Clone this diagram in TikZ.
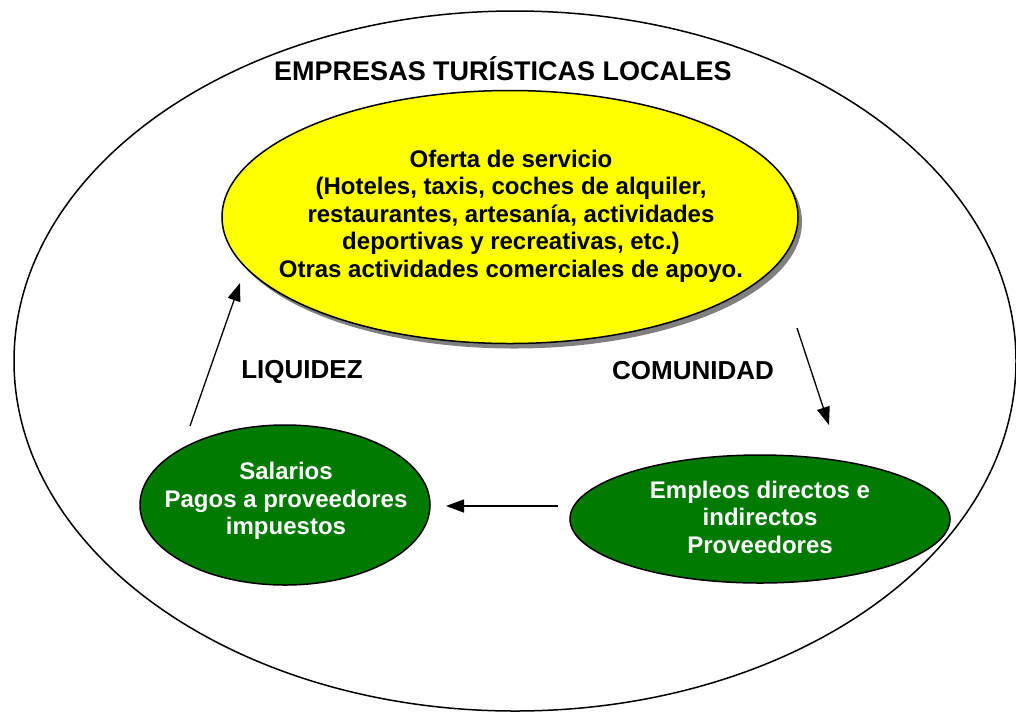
\documentclass[tikz,border=0pt]{standalone}
\usepackage{fontspec}
\setmainfont{Liberation Sans}
\usepackage{xcolor}
\usepackage{tikz}
\usetikzlibrary{shapes.geometric,shadows,arrows.meta}
\definecolor{amarillo}{HTML}{FFFF00}
\definecolor{verde}{HTML}{007A00}
\definecolor{sombra}{HTML}{808080}
\tikzset{
  borde/.style={ellipse, draw=black, line width=1.5pt, inner sep=0pt},
  oferta/.style={borde, fill=amarillo,
    drop shadow={shadow xshift=4pt, shadow yshift=-5pt, fill=sombra, opacity=1}},
  grupo/.style={borde, fill=verde},
  texto/.style={align=center, font=\fontsize{24}{27.5}\selectfont\bfseries},
  textob/.style={texto, text=white},
  flecha/.style={draw=black, line width=1.3pt, -{Triangle[length=18pt,width=13pt]}},
  rotulo/.style={font=\fontsize{26}{30}\selectfont\bfseries},
}

\begin{document}
\begin{tikzpicture}[x=1pt,y=-1pt]
  \useasboundingbox (0,0) rectangle (1016,713);
  \node[borde, minimum width=1002pt, minimum height=700pt] (empresas) at (515,361) {};
  \node[rotulo, font=\fontsize{27}{30}\selectfont\bfseries] (titulo) at (503,69) {EMPRESAS TURÍSTICAS LOCALES};
  \node[oferta, minimum width=576pt, minimum height=253pt] (servicio) at (510,217) {};
  \node[texto] (serviciotxt) at (511,216)
    {Oferta de servicio\\(Hoteles, taxis, coches de alquiler,\\restaurantes, artesanía, actividades\\deportivas y recreativas, etc.)\\Otras actividades comerciales de apoyo.};
  \node[grupo, minimum width=290pt, minimum height=160pt] (salarios) at (285,505) {};
  \node[textob] (salariostxt) at (286,501) {Salarios\\Pagos a proveedores\\impuestos};
  \node[grupo, minimum width=380pt, minimum height=128pt] (empleos) at (760,519) {};
  \node[textob] (empleostxt) at (760,517) {Empleos directos e\\indirectos\\Proveedores};
  \node[rotulo] (liquidez) at (302,372) {LIQUIDEZ};
  \node[rotulo] (comunidad) at (693,371) {COMUNIDAD};
  \coordinate (liq0) at (190,426);
  \coordinate (liq1) at (240,283);
  \coordinate (com0) at (797,328);
  \coordinate (com1) at (829,425);
  \coordinate (pag0) at (558,506);
  \coordinate (pag1) at (446,506);
  \draw[flecha] (liq0) -- (liq1);
  \draw[flecha] (com0) -- (com1);
  \draw[flecha] (pag0) -- (pag1);
\end{tikzpicture}
\end{document}
